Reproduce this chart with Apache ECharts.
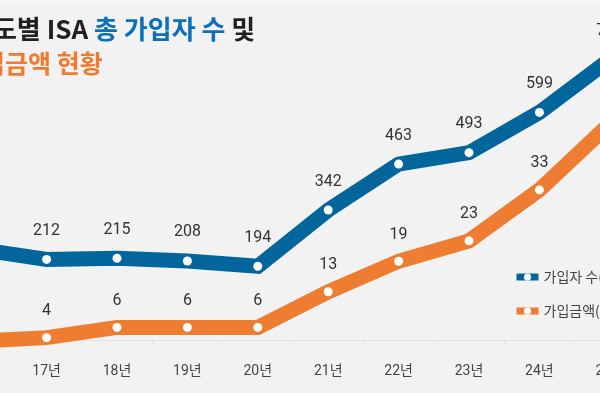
<!DOCTYPE html>
<html>
<head>
<meta charset="utf-8">
<script src="https://cdn.jsdelivr.net/npm/echarts@6/dist/echarts.min.js"></script>
<style>
html,body{margin:0;padding:0;background:#f2f2f2;overflow:hidden;width:600px;height:393px;position:relative;}
#c{position:absolute;left:-59px;top:-2px;width:704px;height:395px;}
</style>
</head>
<body>
<div id="c"></div>
<script>
var categories = ['16년','17년','18년','19년','20년','21년','22년','23년','24년','25년'];
var subscribers = [240, 212, 215, 208, 194, 342, 463, 493, 599, 738];
var amounts = [3.3, 4, 6, 6, 6, 13, 19, 23, 33, 46];
var seriesNames = ['가입자 수(만명)', '가입금액(조원)'];
var titleLine1 = ['연도별 ISA ', '총 가입자 수', ' 및'];
var titleLine2 = '가입금액 현황';

var chart = echarts.init(document.getElementById('c'));
var numFont = 'Roboto, "Noto Sans CJK KR", sans-serif';
var krFont = '"Noto Sans CJK KR", sans-serif';
chart.setOption({
  backgroundColor: '#f2f2f2',
  animation: false,
  graphic: [
    {type:'rect', shape:{x:59,y:2,width:600,height:3}, style:{fill:'#f8f8f8'}, silent:true},
    {type:'text', left:28, top:18, style:{
      text:'{a|'+titleLine1[0]+'}{b|'+titleLine1[1]+'}{a|'+titleLine1[2]+'}',
      rich:{
        a:{fontSize:26,fontWeight:'bold',fontFamily:krFont,fill:'#231f20'},
        b:{fontSize:26,fontWeight:'bold',fontFamily:krFont,fill:'#0b6fba'}
      }
    }},
    {type:'text', left:18, top:53, style:{
      text:titleLine2, fontSize:25, fontWeight:'bold', fontFamily:krFont, fill:'#f07b2c'
    }}
  ],
  legend: {
    orient:'vertical', left:572, top:272, padding:0, itemWidth:22, itemHeight:9, itemGap:20,
    textStyle:{fontSize:14, color:'#444', fontFamily:krFont},
    lineStyle:{width:7},
    data: seriesNames
  },
  grid: {left:0, right:0, top:0, bottom:53, containLabel:false},
  xAxis: {
    type:'category', data:categories, boundaryGap:true,
    axisLine:{lineStyle:{color:'#e2e2e2', width:1}},
    axisTick:{show:true, lineStyle:{color:'#e2e2e2'}, length:5},
    axisLabel:{color:'#444', fontSize:14, fontFamily:numFont, margin:25},
    splitLine:{show:false}
  },
  yAxis: [
    {type:'value', min:0, max:900, show:false, splitLine:{show:false}},
    {type:'value', min:3.534, max:70.67, show:false, splitLine:{show:false}}
  ],
  series: [
    {
      name:seriesNames[0], type:'line', data:subscribers, yAxisIndex:0, clip:false,
      symbol:'circle', symbolSize:9, showAllSymbol:true,
      lineStyle:{width:15, color:'#02669d', join:'miter'},
      itemStyle:{color:'#ffffff', borderWidth:0},
      label:{show:true, position:'top', distance:16, fontSize:16, color:'#333', fontFamily:numFont},
      z:3
    },
    {
      name:seriesNames[1], type:'line', data:amounts, yAxisIndex:1, clip:false,
      symbol:'circle', symbolSize:9, showAllSymbol:true,
      lineStyle:{width:15, color:'#ee7d31', join:'miter'},
      itemStyle:{color:'#ffffff', borderWidth:0},
      label:{show:true, position:'top', distance:14, fontSize:16, color:'#333', fontFamily:numFont},
      z:2
    }
  ]
});
</script>
</body>
</html>
